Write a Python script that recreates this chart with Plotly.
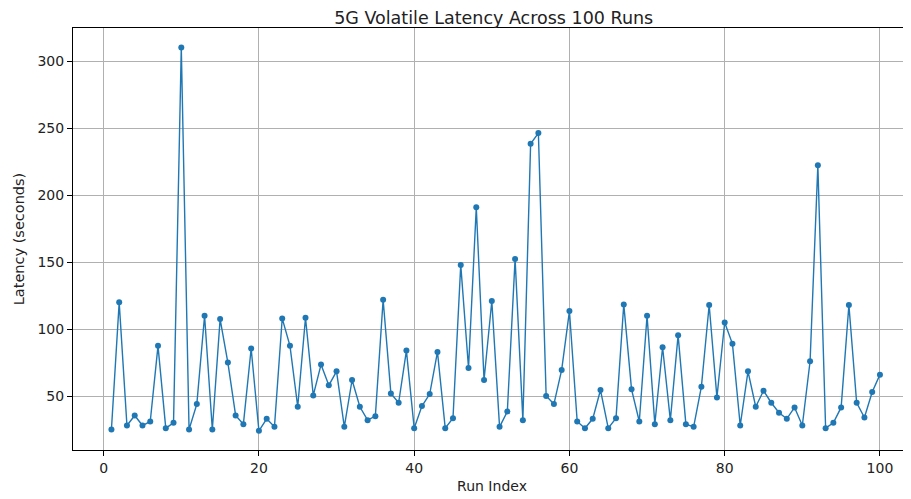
import plotly.graph_objects as go

run_index = list(range(1, 101))
latency = [
    25, 120, 28, 35.5, 28, 31, 87.5, 26, 30, 310.5,
    25, 44, 110, 25, 107.5, 75, 35.5, 29, 85.5, 24,
    33, 27, 108, 87.5, 42, 108.5, 50.5, 73.5, 58, 68.5,
    27, 62, 42, 32, 35, 122, 52, 45, 84, 26,
    42.5, 51.5, 83, 26, 33.5, 148, 71, 191, 62, 121,
    27, 38.5, 152.5, 32, 238.5, 246.5, 50, 44, 69.5, 113.5,
    31, 26, 33, 54.5, 26, 33.5, 118.5, 55, 31, 110,
    29, 86.5, 32, 95.5, 29, 27, 57, 118, 49, 105,
    89, 28, 68.5, 42, 54, 45, 37.5, 33, 41.5, 28,
    76, 222.5, 26, 30, 41.5, 118, 45, 34, 53, 66,
]
x_ticks = [0, 20, 40, 60, 80, 100]
y_ticks = [50, 100, 150, 200, 250, 300]

fig = go.Figure(
    go.Scatter(
        x=run_index, y=latency, mode="lines+markers",
        line=dict(color="#1f77b4", width=1.4),
        marker=dict(color="#1f77b4", size=6),
        showlegend=False,
    )
)

font = "DejaVu Sans, Liberation Sans, sans-serif"
axis_common = dict(
    showgrid=True, gridcolor="#b0b0b0", gridwidth=0.8,
    showline=True, linecolor="#000000", linewidth=1,
    ticks="outside", ticklen=5, tickcolor="#000000", tickwidth=1,
    zeroline=False, tickfont=dict(family=font, size=14, color="#222222"),
)

W, H = 903, 491  # page body adds an 8px offset
fig.update_layout(
    width=W, height=H,
    margin=dict(l=65, r=0, t=20, b=49),
    paper_bgcolor="white", plot_bgcolor="white",
    font=dict(family=font, color="#222222"),
    title=dict(text="5G Volatile Latency Across 100 Runs",
               font=dict(family=font, size=17.5, color="#222222"),
               x=0.502, xref="paper", xanchor="center",
               y=1 - 10 / H, yref="container", yanchor="middle"),
    xaxis=dict(axis_common, range=[-3.95, 104.0], tickvals=x_ticks,
               mirror=True,
               title=dict(text="Run Index", font=dict(family=font, size=14), standoff=6)),
    yaxis=dict(axis_common, range=[9.7, 325], tickvals=y_ticks,
               title=dict(text="Latency (seconds)", font=dict(family=font, size=14.5), standoff=9)),
)

fig.write_html("out.html")
